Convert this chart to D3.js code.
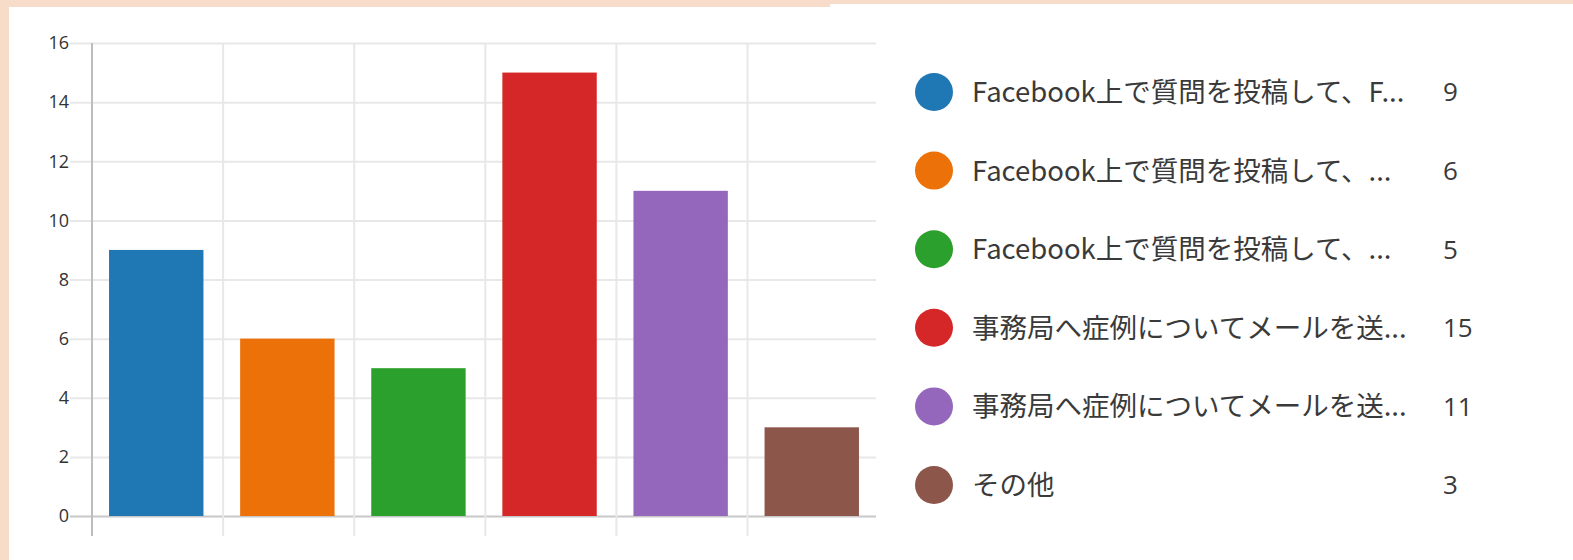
<!DOCTYPE html>
<html>
<head>
<meta charset="utf-8">
<script src="https://cdn.jsdelivr.net/npm/d3@7"></script>
<style>
  body { margin: 0; background: #f6dcc9; }
  svg { display: block; }
</style>
</head>
<body>
<div id="myPlot"></div>
<script>
// Data
const labels = [
  "Facebook上で質問を投稿して、F...",
  "Facebook上で質問を投稿して、...",
  "Facebook上で質問を投稿して、...",
  "事務局へ症例についてメールを送...",
  "事務局へ症例についてメールを送...",
  "その他"
];
const counts = [9, 6, 5, 15, 11, 3];
const colors = ["#1f77b4", "#ec7108", "#2ca02c", "#d62728", "#9467bd", "#8c564b"];
const yTicks = [0, 2, 4, 6, 8, 10, 12, 14, 16];

// Set Dimensions
const width = 1573, height = 560;
const plotLeft = 92, plotRight = 876, plotTop = 43, plotBottom = 516;

const svg = d3.select("#myPlot")
  .append("svg")
  .attr("width", width)
  .attr("height", height);

// white panel
svg.append("rect").attr("x", 9).attr("y", 7).attr("width", 830).attr("height", height).attr("fill", "#fff");
svg.append("rect").attr("x", 830).attr("y", 4).attr("width", width - 830).attr("height", height).attr("fill", "#fff");

const idx = d3.range(counts.length);

// X scale
const x = d3.scaleBand()
  .domain(idx)
  .range([plotLeft, plotRight])
  .paddingInner(0.28)
  .paddingOuter(0.13);

// Y scale
const y = d3.scaleLinear()
  .domain([0, 16])
  .range([plotBottom, plotTop]);

// Y Axis with grid
const yAxis = svg.append("g")
  .attr("transform", "translate(70,0)")
  .call(d3.axisLeft(y).tickValues(yTicks).tickSize(-(plotRight - 70)).tickPadding(1));
yAxis.select(".domain").remove();
yAxis.selectAll(".tick line")
  .attr("stroke", d => d === 0 ? "#c8c8c8" : "#e8e8e8")
  .attr("stroke-width", 2);
yAxis.selectAll(".tick text")
  .attr("fill", "#333")
  .style("font-family", "'Open Sans', 'Noto Sans', sans-serif")
  .style("font-size", "18px");

// vertical grid
svg.append("g")
  .selectAll("line")
  .data(idx).enter()
  .append("line")
  .attr("x1", d => plotLeft + d * x.step())
  .attr("x2", d => plotLeft + d * x.step())
  .attr("y1", plotTop)
  .attr("y2", 536)
  .attr("stroke", d => d === 0 ? "#bdbdbd" : "#e8e8e8")
  .attr("stroke-width", 2);

// Bars
svg.append("g")
  .selectAll("rect")
  .data(idx).enter()
  .append("rect")
  .attr("x", d => x(d))
  .attr("y", d => y(counts[d]))
  .attr("width", x.bandwidth())
  .attr("height", d => y(0) - y(counts[d]))
  .attr("fill", d => colors[d]);

// Legend
const ly = d3.scalePoint().domain(idx).range([92, 485]);
const legend = svg.append("g")
  .selectAll("g")
  .data(idx).enter()
  .append("g")
  .attr("transform", d => "translate(0," + ly(d) + ")");

legend.append("circle")
  .attr("cx", 934)
  .attr("cy", 0)
  .attr("r", 19)
  .attr("fill", d => colors[d]);

legend.append("text")
  .attr("x", 972)
  .attr("y", 0)
  .attr("dy", "0.36em")
  .attr("fill", "#3a3a3a")
  .style("font-family", "'Noto Sans CJK JP', sans-serif")
  .style("font-size", "27.5px")
  .text(d => labels[d]);

legend.append("text")
  .attr("x", 1443)
  .attr("y", 0)
  .attr("dy", "0.36em")
  .attr("fill", "#3a3a3a")
  .style("font-family", "'Open Sans', 'Noto Sans', sans-serif")
  .style("font-size", "26px")
  .text(d => counts[d]);
</script>
</body>
</html>
